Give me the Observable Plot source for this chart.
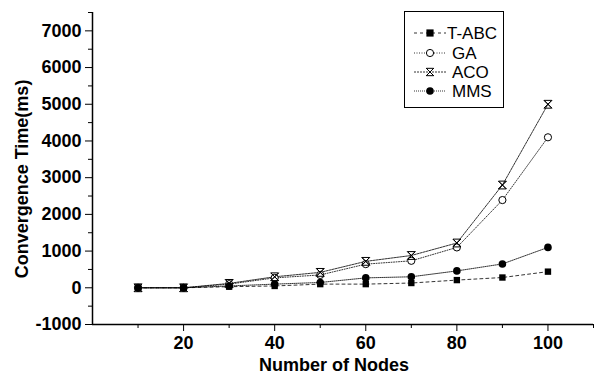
<!DOCTYPE html>
<html><head><meta charset="utf-8">
<script src="https://cdn.jsdelivr.net/npm/d3@7"></script>
<script src="https://cdn.jsdelivr.net/npm/@observablehq/plot@0.6"></script>
<style>
body{margin:0;background:#fff;}
#wrap{position:relative;width:594px;height:378px;}
</style></head>
<body><div id="wrap"></div>
<script>
const nodes = [10,20,30,40,50,60,70,80,90,100];
const tabc = [0,0,30,50,100,100,130,210,280,440];
const ga   = [0,0,100,270,350,645,735,1100,2390,4100];
const aco  = [0,0,120,300,420,720,880,1220,2800,5000];
const mms  = [0,0,50,100,145,270,300,460,650,1100];
const seriesNames = ["T-ABC","GA","ACO","MMS"];
const yMajor = [-1000,0,1000,2000,3000,4000,5000,6000,7000];
const yMinor = [-500,500,1500,2500,3500,4500,5500,6500,7500];
const xMajor = [20,40,60,80,100];
const xMinor = [10,30,50,70,90,110];

const hourglassX = {draw(ctx, size){const r=Math.sqrt(size)/2;
  ctx.moveTo(-r,-r);ctx.lineTo(r,-r);ctx.lineTo(-r,r);ctx.lineTo(r,r);ctx.closePath();
  ctx.moveTo(-r,-r);ctx.lineTo(r,r);ctx.moveTo(r,-r);ctx.lineTo(-r,r);}};

const styles = {
  "T-ABC": {dash:"3,3", symbol:"square", fill:"black", stroke:"none", r:3.6},
  "GA": {dash:"1,1.5", symbol:"circle", fill:"white", stroke:"black", r:3.6},
  "ACO": {dash:"2,1", symbol:hourglassX, fill:"none", stroke:"black", r:4.4},
  "MMS": {dash:"1,1", symbol:"circle", fill:"black", stroke:"none", r:3.8}
};
const vals = {"T-ABC":tabc,"GA":ga,"ACO":aco,"MMS":mms};
const data = seriesNames.flatMap(s => nodes.map((n,i)=>({s, x:n, y:vals[s][i]})));

const marks = [];
for (const s of seriesNames) {
  const d = data.filter(e=>e.s===s), st = styles[s];
  marks.push(Plot.line(d,{x:"x",y:"y",stroke:"black",strokeWidth:0.8,strokeDasharray:st.dash}));
}
for (const s of seriesNames) {
  const d = data.filter(e=>e.s===s), st = styles[s];
  marks.push(Plot.dot(d,{x:"x",y:"y",symbol:()=>st.symbol,r:st.r,fill:st.fill,stroke:st.stroke,strokeWidth:1}));
}
const font = "Liberation Sans, Arial, sans-serif";
const chart = Plot.plot({
  width:594, height:378,
  marginLeft:92, marginRight:1, marginTop:12, marginBottom:54,
  style:{fontFamily:font, background:"white"},
  x:{domain:[0,110]},
  y:{domain:[-1000,7500]},
  symbol:{type:"identity"},
  marks:[
    Plot.axisY({ticks:yMajor, tickSize:7, tickPadding:4, fontSize:18, fontWeight:"bold", label:null, tickFormat:d=>String(d)}),
    Plot.axisY({ticks:yMinor, tickSize:4, text:null, label:null}),
    Plot.axisX({ticks:xMajor, tickSize:7, tickPadding:5, fontSize:18, fontWeight:"bold", label:null}),
    Plot.axisX({ticks:xMinor, tickSize:4, text:null, label:null}),
    Plot.ruleX([0],{y1:-1000,y2:7500,stroke:"black",strokeWidth:1.5}),
    Plot.ruleY([-1000],{stroke:"black",strokeWidth:1.5}),
    ...marks
  ]
});
document.getElementById("wrap").appendChild(chart);

// axis titles
const svg = d3.select(chart);
svg.append("text").attr("x",334).attr("y",371).attr("text-anchor","middle")
  .attr("font-family",font).attr("font-weight","bold").attr("font-size",18).text("Number of Nodes");
svg.append("text").attr("transform","translate(28,179) rotate(-90)").attr("text-anchor","middle")
  .attr("font-family",font).attr("font-weight","bold").attr("font-size",18).text("Convergence Time(ms)");

// legend
const lg = svg.append("g");
lg.append("rect").attr("x",404.5).attr("y",11.5).attr("width",99).attr("height",96)
  .attr("fill","white").attr("stroke","black").attr("stroke-width",1);
const rows = [33,53,72,91];
seriesNames.forEach((s,i)=>{
  const st = styles[s], y = rows[i];
  lg.append("line").attr("x1",414).attr("x2",446).attr("y1",y).attr("y2",y)
    .attr("stroke","black").attr("stroke-width",0.8).attr("stroke-dasharray",st.dash);
  const sym = typeof st.symbol === "string" ? (st.symbol==="square"?d3.symbolSquare:d3.symbolCircle) : st.symbol;
  const size = sym===d3.symbolSquare ? (st.r*2)**2 : (sym===d3.symbolCircle ? Math.PI*st.r*st.r : (st.r*2)**2*0.7);
  lg.append("path").attr("transform",`translate(430,${y})`).attr("d",d3.symbol(sym,size)())
    .attr("fill",st.fill).attr("stroke",st.stroke).attr("stroke-width",1);
  lg.append("text").attr("x", i===0?447:452).attr("y",y).attr("dy","0.36em").attr("text-anchor","start")
    .attr("font-family",font).attr("font-size",17).text(s);
});
</script></body></html>
